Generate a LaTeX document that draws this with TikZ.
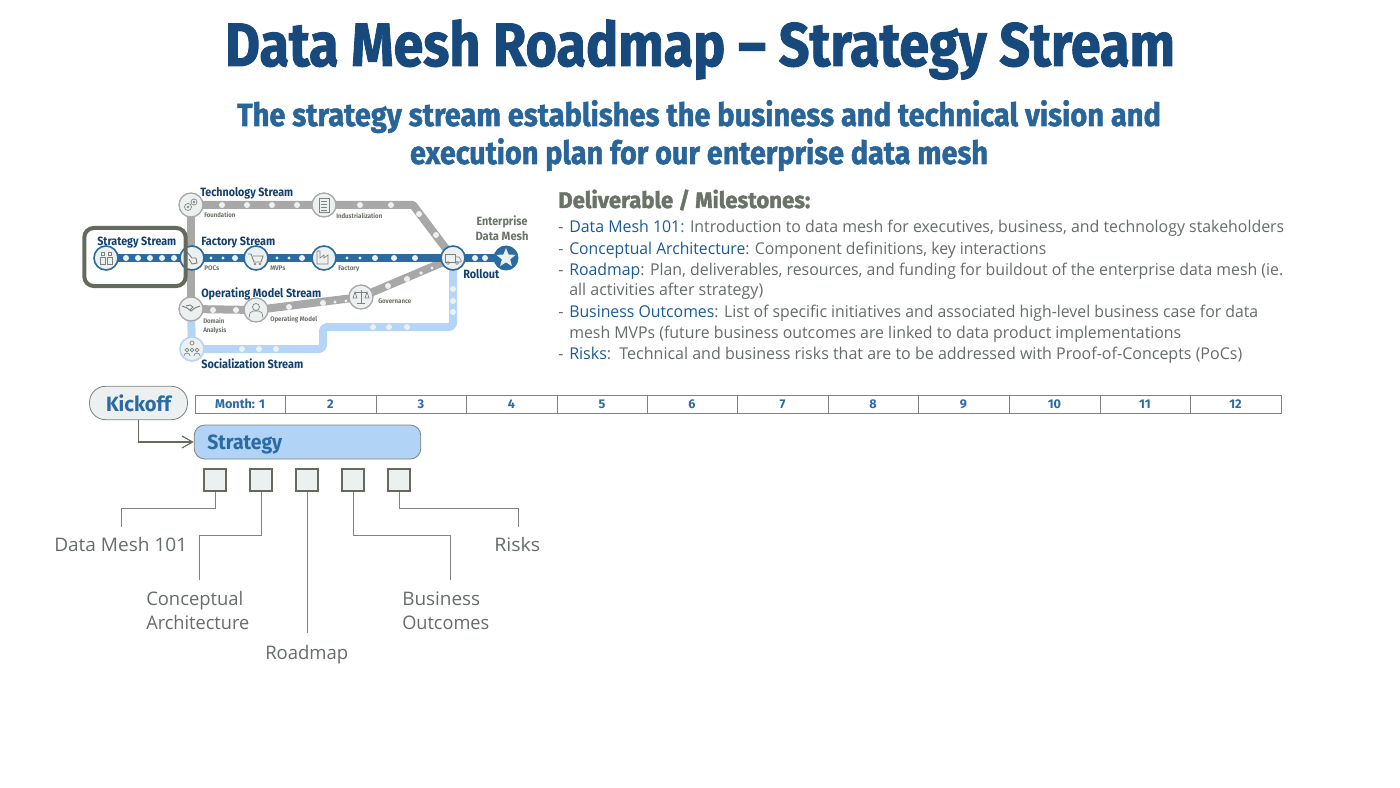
\documentclass[tikz,border=0pt]{standalone}
\usepackage{fontspec}
\usepackage{graphicx}
\usetikzlibrary{arrows.meta,shapes.geometric}
\setmainfont{Open Sans}
\newfontfamily\headf{Fira Sans}
\newfontfamily\headfat[FakeBold=1.6]{Fira Sans}
\definecolor{navy}{HTML}{123F6D}
\definecolor{midblue}{HTML}{2B6AA3}
\definecolor{titleblue}{HTML}{17497C}
\definecolor{subblue}{HTML}{2A6599}
\definecolor{keyblue}{HTML}{1B5A96}
\definecolor{txtgray}{HTML}{666B6C}
\definecolor{headgray}{HTML}{6B7268}
\definecolor{frame}{HTML}{646B5E}
\definecolor{railgray}{HTML}{A8A8A8}
\definecolor{railblue}{HTML}{2C6BA2}
\definecolor{raillight}{HTML}{B4D5F6}
\definecolor{disc}{HTML}{EDF0F1}
\definecolor{linegray}{HTML}{7F837D}
\definecolor{taskfill}{HTML}{B1D3F5}
\newsavebox\fitbox
\newcommand\fitw[2]{\sbox\fitbox{#2}\pgfmathsetmacro\fitr{#1*0.75/\the\wd\fitbox}\scalebox{\fitr}[1]{\usebox\fitbox}}
\newcommand\key[1]{\textcolor{keyblue}{#1}}
\pgfdeclarelayer{bg}
\pgfsetlayers{bg,main}
\tikzset{
  x=0.75pt,y=-0.75pt,
  head/.style={anchor=base,inner sep=0,font=\headf\bfseries},
  title/.style={head,text=titleblue,font=\headfat\bfseries\fontsize{46}{46}\selectfont},
  subtitle/.style={head,text=subblue,font=\headfat\bfseries\fontsize{24}{24}\selectfont},
  body/.style={anchor=base west,inner sep=0,text=txtgray,font=\fontsize{12.2}{12.2}\selectfont},
  stream/.style={head,anchor=base west,text=navy,font=\headf\bfseries\fontsize{9}{9}\selectfont},
  tiny/.style={head,anchor=base west,text=headgray,font=\headf\bfseries\fontsize{5}{5}\selectfont},
  leadtext/.style={anchor=base west,inner sep=0,text=txtgray,font=\fontsize{14}{14}\selectfont},
  stop/.style={circle,draw=railgray,fill=disc,line width=1pt,minimum size=18pt,inner sep=0},
  bluestop/.style={stop,draw=railblue,line width=1.2pt},
  lightstop/.style={stop,draw=raillight,line width=1.2pt},
  rail/.style={line width=6pt,line join=round},
  icon/.style={draw=linegray,line width=.5pt,fill=none},
  cell/.style={draw=linegray,line width=.6pt,fill=white,inner sep=0,minimum height=13.5pt,text=midblue,font=\headf\bfseries\fontsize{9.5}{9.5}\selectfont},
  deliv/.style={draw=frame,fill=disc,line width=1.1pt,minimum size=16.5pt,inner sep=0},
  lead/.style={draw=linegray,line width=.55pt},
}
\begin{document}
\begin{tikzpicture}
\useasboundingbox (0,0) rectangle (1400,788);
% titles
\node[title] (t1) at (700,66) {\fitw{950}{Data Mesh Roadmap – Strategy Stream}};
\node[subtitle] (t2) at (699,126) {\fitw{924}{The strategy stream establishes the business and technical vision and}};
\node[subtitle] (t3) at (699,164) {\fitw{578}{execution plan for our enterprise data mesh}};
% stops
\node[bluestop] (strat) at (106,258) {};
\node[stop] (found) at (191,205) {};
\node[stop] (indus) at (324,205) {};
\node[bluestop] (pocs) at (192,258) {};
\node[bluestop] (mvps) at (256,258) {};
\node[bluestop] (fact) at (324,258) {};
\node[bluestop] (roll) at (453,258) {};
\node[stop] (hand) at (191,309) {};
\node[stop] (opm) at (256,310) {};
\node[stop] (gov) at (361,297) {};
\node[lightstop] (soc) at (192,349) {};
\node[star,star points=5,star point ratio=2.3,fill=disc,inner sep=0,minimum size=15pt] (star) at (506,258) {};
\coordinate (tb) at (413,205);
\coordinate (s1) at (323,349);
\coordinate (s2) at (323,327);
\coordinate (s3) at (453,327);
\begin{pgfonlayer}{bg}
\fill[railblue] (star) circle (12.5);
\draw[rail,railgray] (found.center) -- (indus.center) -- (tb) -- (roll.center);
\draw[rail,railgray] (found.center) -- (hand.center);
\draw[rail,railgray] (hand.center) -- (opm.center) -- (gov.center) -- (roll.center);
\draw[rail,raillight] (hand.center) -- (soc.center);
\draw[rail,raillight,rounded corners=3pt] (soc.center) -- (s1) -- (s2) -- (s3) -- (roll.center);
\draw[rail,railblue] (strat.center) -- (pocs.center) -- (mvps.center) -- (fact.center) -- (roll.center) -- (star.center);
\end{pgfonlayer}
% dots
\foreach \x/\y/\r in {126/258/3,138/258/3,150/258/3,162/258/3,174/258/3,
  211/258/1.6,223/258/1.6,235/258/3,277/258/1.6,289/258/1.6,302/258/3,347/258/1.6,360/258/1.6,375/258/3,394/258/3,415/258/3,475/258/3,485/258/3,
  222/205/3,247/205/3,272/205/3,297/205/3,360/205/3,391/205/3,419/214/3,436/235/3,
  213/310/3,236/310/3,289/307/3,323/303/3,335/302/1.6,346/301/1.6,388/286/3,407/279/3,421/273/1.8,432/268/1.6,
  453/289/3,453/301/3,453/312/3,373/327/3,389/327/3,407/327/3,242/349/3,259/349/3,276/349/3}
  \fill[disc] (\x,\y) circle (\r);
% icons
\begin{scope}[icon]
 \draw (strat)++(-6,-1) rectangle ++(5,7); \draw (strat)++(1,-1) rectangle ++(5,7); \draw (strat)++(-5,-6) rectangle ++(3,3); \draw (strat)++(2,-6) rectangle ++(3,3);
 \draw (found)++(-3,2) circle (3.5); \draw (found)++(3,-3) circle (3); \draw (found)++(-3,2) circle (1); \draw (found)++(3,-3) circle (1);
 \draw (indus)++(-5,-7) rectangle ++(10,14); \foreach \q in {-4,-1,2,5}{\draw (indus)++(-3,\q) -- ++(6,0);}
 \draw[line width=.7pt] (pocs)++(-5,-6) -- ++(5,6) -- ++(4,0) -- ++(1,5) -- ++(-5,1) -- ++(-3,-5);
 \draw[line width=.7pt] (mvps)++(-8,-4) -- ++(3,0) -- ++(3,8) -- ++(7,0) -- ++(2,-6) -- ++(-10,0);
 \draw (mvps)++(-1,6) circle (1); \draw (mvps)++(4,6) circle (1);
 \draw (fact)++(-7,6) -- ++(0,-13) -- ++(3,0) -- ++(0,7) -- ++(4,-3) -- ++(0,3) -- ++(4,-3) -- ++(0,9) -- cycle;
 \draw (roll)++(-8,-4) rectangle ++(10,8); \draw (roll)++(2,-1) -- ++(4,0) -- ++(2,3) -- ++(0,2) -- ++(-6,0);
 \draw (roll)++(-5,5) circle (1.5); \draw (roll)++(4,5) circle (1.5);
 \draw[line width=.7pt] (hand)++(-9,-3) -- ++(5,2) -- ++(4,3) -- ++(4,-3) -- ++(5,-2); \draw[line width=.7pt] (hand)++(-5,-3) -- ++(4,-1) -- ++(3,2) -- ++(-3,3);
 \draw (opm)++(0,-3) circle (3.5); \draw (opm)++(-7,8) -- ++(1,-5) -- ++(3,-2) -- ++(6,0) -- ++(3,2) -- ++(1,5);
 \draw (gov)++(0,-7) -- ++(0,13); \draw (gov)++(-6,-5) -- ++(12,0); \draw (gov)++(-4,6) -- ++(8,0);
 \draw (gov)++(-6,-5) -- ++(-2,6) -- ++(4,0) -- cycle; \draw (gov)++(6,-5) -- ++(-2,6) -- ++(4,0) -- cycle;
 \draw (soc)++(0,-6) circle (2); \draw (soc)++(-5,1) circle (1.8); \draw (soc)++(5,1) circle (1.8); \draw (soc)++(0,1) circle (1.8);
 \draw (soc)++(-8,7) arc (180:360:3); \draw (soc)++(2,7) arc (180:360:3);
\end{scope}
% strategy frame
\node[draw=frame,line width=3pt,rounded corners=7pt,minimum width=76pt,minimum height=43.5pt,inner sep=0] (box) at (135,257) {};
% network labels
\node[stream] (l1) at (97,246) {\fitw{79}{Strategy Stream}};
\node[stream] (l2) at (200,197) {\fitw{93}{Technology Stream}};
\node[stream] (l3) at (201,246) {\fitw{74}{Factory Stream}};
\node[stream] (l4) at (201,297) {\fitw{120}{Operating Model Stream}};
\node[stream] (l5) at (201,368) {\fitw{102}{Socialization Stream}};
\node[stream] (l6) at (463,278) {\fitw{36}{Rollout}};
\node[stream,anchor=base,text=headgray] (l7) at (502,226) {\fitw{51}{Enterprise}};
\node[stream,anchor=base,text=headgray] (l8) at (502,241) {\fitw{53}{Data Mesh}};
\node[tiny] (n1) at (204,218) {\fitw{31}{Foundation}};
\node[tiny] (n2) at (336,219) {\fitw{46}{Industrialization}};
\node[tiny] (n3) at (204,271) {\fitw{15}{POCs}};
\node[tiny] (n4) at (270,271) {\fitw{15}{MVPs}};
\node[tiny] (n5) at (338,271) {\fitw{21}{Factory}};
\node[tiny] (n6) at (203,323) {\fitw{21}{Domain}};
\node[tiny] (n7) at (203,332) {\fitw{23}{Analysis}};
\node[tiny] (n8) at (270,321) {\fitw{47}{Operating Model}};
\node[tiny] (n9) at (378,303) {\fitw{33}{Governance}};
% deliverables
\node[head,anchor=base west,text=headgray,font=\headfat\bfseries\fontsize{17}{17}\selectfont] (dh) at (558,208) {\fitw{252}{Deliverable / Milestones:}};
\node[body] (b0) at (558,233) {-};
\node[body] (b1) at (569,233) {\fitw{715}{\key{Data Mesh 101}: Introduction to data mesh for executives, business, and technology stakeholders}};
\node[body] (b00) at (558,254) {-};
\node[body] (b2) at (569,254) {\fitw{477}{\key{Conceptual Architecture}: Component definitions, key interactions}};
\node[body] (b01) at (558,275) {-};
\node[body] (b3) at (569,275) {\fitw{714}{\key{Roadmap}: Plan, deliverables, resources, and funding for buildout of the enterprise data mesh (ie.}};
\node[body] (b4) at (569,296) {\fitw{194}{all activities after strategy)}};
\node[body] (b02) at (558,317) {-};
\node[body] (b5) at (569,317) {\fitw{689}{\key{Business Outcomes}: List of specific initiatives and associated high-level business case for data}};
\node[body] (b6) at (569,338) {\fitw{612}{mesh MVPs (future business outcomes are linked to data product implementations}};
\node[body] (b03) at (558,359) {-};
\node[body] (b7) at (569,359) {\fitw{673}{\key{Risks}:\ \ Technical and business risks that are to be addressed with Proof-of-Concepts (PoCs)}};
% timeline
\foreach \i/\a/\b/\t in {1/195/285/{Month: 1},2/285/376/2,3/376/466/3,4/466/557/4,5/557/647/5,6/647/737/6,7/737/828/7,8/828/918/8,9/918/1009/9,10/1009/1100/10,11/1100/1190/11,12/1190/1281/12}
  \node[cell,minimum width={(\b-\a)*0.75pt}] (m\i) at ({(\a+\b)/2},404) {\t};
\node[draw=linegray,fill=disc,rounded corners=12pt,line width=.6pt,minimum width=73.5pt,minimum height=25pt,inner sep=0,text=midblue,font=\headf\bfseries\fontsize{15.5}{15.5}\selectfont] (kick) at (138.5,403) {\fitw{65}{Kickoff}};
\node[draw=linegray,fill=taskfill,rounded corners=8pt,line width=.6pt,minimum width=170pt,minimum height=25.5pt,inner sep=0] (task) at (307.5,442) {};
\node[head,anchor=base west,text=midblue,font=\headf\bfseries\fontsize{15.5}{15.5}\selectfont] (taskt) at (207,449) {\fitw{75}{Strategy}};
\draw[frame,line width=.85pt,-{Straight Barb[length=8pt,width=9pt]}] (kick.south) |- (task.west);
\foreach \n/\x in {1/215,2/261,3/307,4/353,5/399}
  \node[deliv] (d\n) at (\x,480) {};
% leader labels
\node[leadtext] (a1) at (54,551) {\fitw{133}{Data Mesh 101}};
\node[leadtext] (a2) at (146,605) {\fitw{97}{Conceptual}};
\node[leadtext] (a2b) at (146,629) {\fitw{103}{Architecture}};
\node[leadtext] (a3) at (265,659) {\fitw{83}{Roadmap}};
\node[leadtext] (a4) at (402,605) {\fitw{78}{Business}};
\node[leadtext] (a4b) at (402,629) {\fitw{87}{Outcomes}};
\node[leadtext] (a5) at (494,551) {\fitw{46}{Risks}};
\coordinate (e1) at (121,527);
\coordinate (e2) at (199,580);
\coordinate (e3) at (307,633);
\coordinate (e4) at (450,580);
\coordinate (e5) at (518,527);
\draw[lead] (d1.south) -- ++(0,17) -| (e1);
\draw[lead] (d2.south) -- ++(0,44) -| (e2);
\draw[lead] (d3.south) -- (e3);
\draw[lead] (d4.south) -- ++(0,44) -| (e4);
\draw[lead] (d5.south) -- ++(0,17) -| (e5);
\end{tikzpicture}
\end{document}
